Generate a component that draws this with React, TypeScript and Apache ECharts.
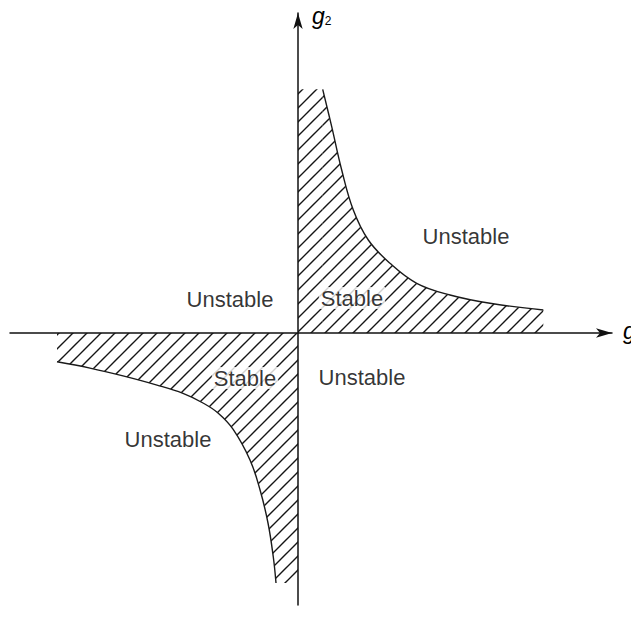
import React, { useEffect, useRef } from "react";
import * as echarts from "echarts";

// Curve in the first quadrant (stability boundary)
const q1G1 = [0.247, 0.337, 0.437, 0.553, 0.703, 0.92, 1.187, 1.52, 1.92, 2.453];
const q1G2 = [2.437, 2.063, 1.63, 1.23, 0.93, 0.697, 0.497, 0.38, 0.297, 0.23];
// Curve in the third quadrant
const q3G1 = [-2.41, -2.08, -1.75, -1.41, -1.15, -0.95, -0.8, -0.65, -0.48, -0.38, -0.3, -0.247, -0.22];
const q3G2 = [-0.288, -0.351, -0.429, -0.521, -0.604, -0.7, -0.8, -0.962, -1.27, -1.568, -1.9, -2.24, -2.5];

// Region labels: [text, g1, g2]
const regionLabels: [string, number, number][] = [
  ["Unstable", 1.68, 0.97],
  ["Unstable", -0.68, 0.34],
  ["Stable", 0.54, 0.35],
  ["Stable", -0.53, -0.45],
  ["Unstable", 0.64, -0.44],
  ["Unstable", -1.3, -1.06],
];

const FONT = "'Liberation Sans', Arial, Helvetica, sans-serif";

function makeHatch(): HTMLCanvasElement {
  const c = document.createElement("canvas");
  const s = 14;
  c.width = s;
  c.height = s;
  const ctx = c.getContext("2d")!;
  ctx.strokeStyle = "#151515";
  ctx.lineWidth = 1.4;
  ctx.beginPath();
  ctx.moveTo(-2, s + 2);
  ctx.lineTo(s + 2, -2);
  ctx.moveTo(-2, 2);
  ctx.lineTo(2, -2);
  ctx.moveTo(s - 2, s + 2);
  ctx.lineTo(s + 2, s - 2);
  ctx.stroke();
  return c;
}

export default function App() {
  const ref = useRef<HTMLDivElement>(null);

  useEffect(() => {
    if (!ref.current) return;
    const chart = echarts.init(ref.current, undefined, { renderer: "svg" });
    const hatch = { image: makeHatch(), repeat: "repeat" as const };

    const q1Curve = q1G1.map((x, i) => [x, q1G2[i]]);
    const q3Curve = q3G1.map((x, i) => [x, q3G2[i]]);
    const q1Strip = [[0, q1G2[0]], [q1G1[0], q1G2[0]]];
    const q3Strip = [[q3G1[q3G1.length - 1], q3G2[q3G2.length - 1]], [0, q3G2[q3G2.length - 1]]];

    const axisCommon = {
      type: "value" as const,
      axisTick: { show: false },
      axisLabel: { show: false },
      splitLine: { show: false },
    };

    const areaSeries = (data: number[][], smooth: number) => ({
      type: "line",
      data,
      smooth,
      symbol: "none",
      lineStyle: { width: 0, opacity: 0 },
      areaStyle: { color: hatch, opacity: 1 },
      silent: true,
      z: 1,
    });
    const curveSeries = (data: number[][]) => ({
      type: "line",
      data,
      smooth: 0.4,
      symbol: "none",
      lineStyle: { color: "#1a1a1a", width: 1.4 },
      silent: true,
      z: 2,
    });

    chart.setOption({
      animation: false,
      backgroundColor: "#fff",
      grid: { left: 10, right: 27, top: 13, bottom: 30 },
      xAxis: {
        ...axisCommon,
        min: -2.88,
        max: 3.14,
        axisLine: {
          onZero: true,
          symbol: ["none", "arrow"],
          symbolSize: [7, 16],
          lineStyle: { color: "#111", width: 1.5 },
        },
      },
      yAxis: {
        ...axisCommon,
        min: -2.72,
        max: 3.2,
        axisLine: {
          onZero: true,
          symbol: ["none", "arrow"],
          symbolSize: [7, 16],
          lineStyle: { color: "#111", width: 1.5 },
        },
      },
      series: [
        areaSeries(q1Curve, 0.4),
        areaSeries(q1Strip, 0),
        areaSeries(q3Curve, 0.4),
        areaSeries(q3Strip, 0),
        curveSeries(q1Curve),
        curveSeries(q3Curve),
        {
          type: "scatter",
          data: regionLabels.map(([t, x, y]) => ({ value: [x, y], name: t })),
          symbolSize: 1,
          itemStyle: { color: "rgba(0,0,0,0)" },
          silent: true,
          label: {
            show: true,
            position: "inside",
            formatter: (p: any) => p.name,
            color: "#000",
            fontSize: 22,
            fontFamily: FONT,
            backgroundColor: "#fff",
            padding: [0, 2],
          },
          z: 5,
        },
      ],
      graphic: [
        {
          type: "text",
          x: 312,
          y: 4,
          style: {
            text: "{g|g}{s|2}",
            rich: {
              g: { fontSize: 23, fontStyle: "italic", fontFamily: FONT, fill: "#000" },
              s: { fontSize: 12, fontFamily: FONT, fill: "#000", padding: [10, 0, 0, 0] },
            },
          },
        },
        {
          type: "text",
          x: 623,
          y: 319,
          style: {
            text: "{g|g}{s|1}",
            rich: {
              g: { fontSize: 23, fontStyle: "italic", fontFamily: FONT, fill: "#000" },
              s: { fontSize: 12, fontFamily: FONT, fill: "#000", padding: [10, 0, 0, 0] },
            },
          },
        },
      ],
    });

    return () => chart.dispose();
  }, []);

  return <div ref={ref} style={{ width: 639, height: 635, margin: -8 }} />;
}
